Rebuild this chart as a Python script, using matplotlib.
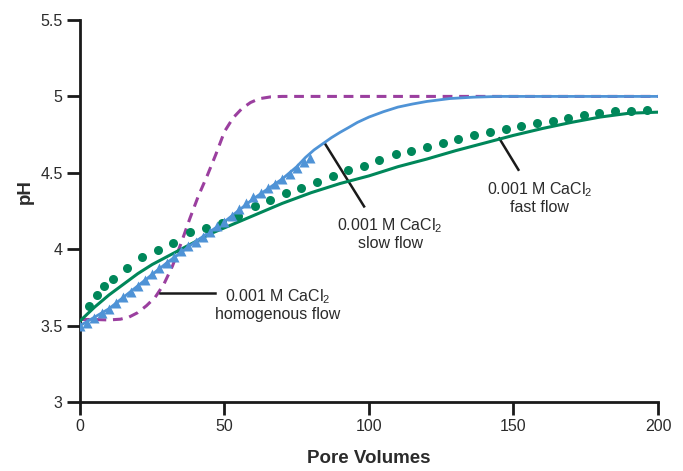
import matplotlib
matplotlib.use("Agg")
import matplotlib.pyplot as plt

# fonts: no condensed face installed, so a plain sans at a slightly smaller size
plt.rcParams["font.family"] = ["Liberation Sans", "DejaVu Sans"]
plt.rcParams["mathtext.fontset"] = "custom"
plt.rcParams["mathtext.rm"] = "Liberation Sans"

# ---- data ----
# fast flow, measured (green dots)
fast_x = [3.1, 5.8, 8.3, 11.3, 16.2, 21.3, 27.1, 32.1, 38.1, 43.5, 49.0, 54.8,
          60.6, 65.7, 71.2, 76.5, 81.9, 87.6, 92.8, 98.3, 103.6, 109.2, 114.5,
          120.0, 125.5, 130.9, 136.4, 141.9, 147.4, 152.6, 158.0, 163.6, 169.0,
          174.5, 179.7, 185.1, 190.6, 196.1]
fast_ph = [3.63, 3.70, 3.76, 3.805, 3.88, 3.95, 3.995, 4.04, 4.115, 4.137, 4.17,
           4.22, 4.28, 4.32, 4.366, 4.399, 4.442, 4.479, 4.518, 4.545, 4.584,
           4.621, 4.645, 4.669, 4.697, 4.719, 4.747, 4.765, 4.787, 4.806, 4.824,
           4.839, 4.857, 4.878, 4.89, 4.905, 4.905, 4.91]

# fast flow, model (green line)
fast_fit_x = [0, 5, 10, 15, 20, 25, 30, 35, 40, 45, 50, 60, 70, 80, 90, 100,
              110, 120, 130, 140, 150, 160, 170, 180, 190, 200]
fast_fit_ph = [3.53, 3.62, 3.70, 3.77, 3.84, 3.90, 3.95, 4.00, 4.05, 4.10, 4.14,
               4.22, 4.30, 4.37, 4.43, 4.48, 4.54, 4.59, 4.645, 4.695, 4.745,
               4.79, 4.83, 4.865, 4.89, 4.897]

# slow flow, measured (blue triangles)
slow_x = [0, 2.5, 5, 7.5, 10, 12.5, 15, 17.5, 20, 22.5, 25, 27.5, 30, 32.5, 35,
          37.5, 40, 42.5, 45, 47.5, 50, 52.5, 55, 57.5, 60, 62.5, 65, 67.5, 70,
          72.5, 75, 77.5, 79.5]
slow_ph = [3.50, 3.52, 3.55, 3.58, 3.61, 3.645, 3.685, 3.72, 3.76, 3.80, 3.84,
           3.875, 3.91, 3.95, 3.99, 4.02, 4.05, 4.08, 4.11, 4.15, 4.18, 4.22,
           4.26, 4.30, 4.34, 4.37, 4.40, 4.43, 4.46, 4.49, 4.53, 4.57, 4.60]

# slow flow, model (blue line)
slow_fit_x = [0, 10, 20, 30, 40, 50, 60, 70, 75, 78, 81, 84, 87, 90, 93, 96,
              100, 105, 110, 115, 120, 128, 136, 145, 160, 200]
slow_fit_ph = [3.50, 3.61, 3.76, 3.91, 4.05, 4.18, 4.33, 4.46, 4.54, 4.60, 4.65,
               4.69, 4.73, 4.765, 4.797, 4.83, 4.865, 4.90, 4.93, 4.95, 4.967,
               4.986, 4.995, 5.0, 5.0, 5.0]

# homogenous flow, model (purple dashed)
homo_x = [0, 5, 10, 14, 17, 20, 23, 26, 29, 32, 35, 38, 41, 44, 47, 50, 53, 56,
          59, 62, 66, 70, 200]
homo_ph = [3.54, 3.54, 3.537, 3.542, 3.556, 3.585, 3.63, 3.685, 3.77, 3.89,
           4.04, 4.20, 4.35, 4.48, 4.62, 4.77, 4.86, 4.92, 4.96, 4.985, 4.997,
           5.0, 5.0]

x_ticks = [0, 50, 100, 150, 200]
y_ticks = [3, 3.5, 4, 4.5, 5, 5.5]
y_labels = ["3", "3.5", "4", "4.5", "5", "5.5"]

green = "#00875a"
blue = "#4f93d6"
purple = "#9b3f9f"
ink = "#2b2b2b"

fig = plt.figure(figsize=(6.83, 4.71), dpi=100)
ax = fig.add_axes([0.1171, 0.1465, 0.8463, 0.811])

ax.plot(homo_x, homo_ph, color=purple, lw=2.2, ls=(0, (3.2, 2.2)), zorder=2)
ax.plot(fast_fit_x, fast_fit_ph, color=green, lw=2.2, zorder=3)
ax.plot(slow_fit_x, slow_fit_ph, color=blue, lw=2.0, zorder=3)
ax.plot(fast_x, fast_ph, "o", color=green, ms=6.5, mec="none", zorder=4)
ax.plot(slow_x, slow_ph, "^", color=blue, ms=7, mec="none", zorder=4)

# annotations with leader lines
lab = "0.001 M CaCl$_\\mathregular{2}$"
ax.plot([27.7, 46.7], [3.715, 3.715], color="#1a1a1a", lw=1.8)
ax.text(68.5, 3.635, lab + "\nhomogenous flow", ha="center", va="center",
        fontsize=11.5, color=ink, linespacing=1.1)

ax.plot([84.8, 98.3], [4.69, 4.28], color="#1a1a1a", lw=1.8)
ax.text(107.3, 4.10, lab + "\nslow flow", ha="center", va="center",
        fontsize=11.5, color=ink, linespacing=1.1)

ax.plot([145.1, 151.7], [4.725, 4.52], color="#1a1a1a", lw=1.8)
ax.text(159, 4.34, lab + "\nfast flow", ha="center", va="center",
        fontsize=11.5, color=ink, linespacing=1.1)

ax.set_xlim(0, 200)
ax.set_ylim(3, 5.5)
ax.set_xticks(x_ticks)
ax.set_yticks(y_ticks)
ax.set_yticklabels(y_labels)

for s in ["top", "right"]:
    ax.spines[s].set_visible(False)
for s in ["left", "bottom"]:
    ax.spines[s].set_linewidth(2)
    ax.spines[s].set_color("#1a1a1a")
ax.tick_params(direction="out", length=9.5, width=2, color="#1a1a1a",
               labelsize=11.5, labelcolor=ink, pad=3)

ax.set_xlabel("Pore Volumes", fontsize=13.5, fontweight="bold", color=ink)
ax.set_ylabel("pH", fontsize=13.5, fontweight="bold", color=ink)
ax.xaxis.set_label_coords(0.5, -0.125)
ax.yaxis.set_label_coords(-0.08, 0.552)

fig.savefig("out.png", dpi=100)
